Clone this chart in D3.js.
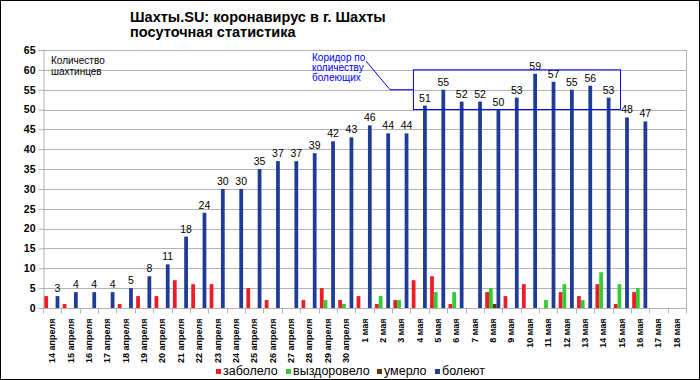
<!DOCTYPE html>
<html>
<head>
<meta charset="utf-8">
<script src="https://cdn.jsdelivr.net/npm/d3@7/dist/d3.min.js"></script>
<style>
  html, body { margin: 0; padding: 0; background: #fff; }
  svg { display: block; }
</style>
</head>
<body>
<svg id="chart" width="700" height="380"></svg>
<script>
// ---- data ----
const categories = [
  "14 апреля","15 апреля","16 апреля","17 апреля","18 апреля","19 апреля","20 апреля",
  "21 апреля","22 апреля","23 апреля","24 апреля","25 апреля","26 апреля","27 апреля",
  "28 апреля","29 апреля","30 апреля",
  "1 мая","2 мая","3 мая","4 мая","5 мая","6 мая","7 мая","8 мая","9 мая","10 мая",
  "11 мая","12 мая","13 мая","14 мая","15 мая","16 мая","17 мая","18 мая"
];
const seriesNames = ["заболело", "выздоровело", "умерло", "болеют"];
const zabolelo    = [3,1,0,0,1,3,3,7,6,6,0,5,2,0,2,5,2,3,1,2,7,8,1,0,4,3,6,0,4,3,6,1,4,null,null];
const vyzdorovelo = [0,0,0,0,0,0,0,0,0,0,0,0,0,0,0,2,1,0,3,2,0,4,4,0,5,0,0,2,6,2,9,6,5,null,null];
const umerlo      = [0,0,0,0,0,0,0,0,0,0,0,0,0,0,0,0,0,0,0,0,0,0,0,0,1,0,0,0,0,0,0,0,0,null,null];
const boleyut     = [3,4,4,4,5,8,11,18,24,30,30,35,37,37,39,42,43,46,44,44,51,55,52,52,50,53,59,57,55,56,53,48,47,null,null];
const yTicks = [0,5,10,15,20,25,30,35,40,45,50,55,60,65];
const titleLines = ["Шахты.SU: коронавирус в г. Шахты", "посуточная статистика"];
const yAxisTitle = ["Количество", "шахтинцев"];
const corridorText = ["Коридор по", "количеству", "болеющих"];
const corridorRange = [50, 60];
const corridorFrom = "4 мая", corridorTo = "15 мая";

const seriesValues = [zabolelo, vyzdorovelo, umerlo, boleyut];
const colors = ["#ee1c24", "#33cc33", "#663300", "#1f3d96"];

// ---- layout ----
const svg = d3.select("#chart");
const plotL = 43, plotR = 686, plotT = 50, plotB = 308;

const x = d3.scaleBand().domain(categories).range([plotL, plotR]).padding(0);
const xs = d3.scaleBand().domain(seriesNames).range([1.3, x.bandwidth() - 2]).padding(0);
const y = d3.scaleLinear().domain([0, 65]).range([plotB, plotT]);

// outer frame
svg.append("rect").attr("x", 0.5).attr("y", 0.5).attr("width", 699).attr("height", 379)
  .attr("fill", "#fff").attr("stroke", "#000").attr("stroke-width", 1);

// title
svg.append("text").attr("x", 130).attr("y", 22)
  .style("font-family", "Liberation Sans, Arial, sans-serif").style("font-size", "14.5px").style("font-weight", "bold")
  .selectAll("tspan").data(titleLines).join("tspan")
  .attr("x", 130).attr("dy", (d, i) => i === 0 ? 0 : 15).text(d => d);

// gridlines
svg.append("g").selectAll("line").data(yTicks).join("line")
  .attr("x1", plotL).attr("x2", plotR)
  .attr("y1", d => Math.round(y(d)) + 0.5).attr("y2", d => Math.round(y(d)) + 0.5)
  .attr("stroke", "#b3b3b3").attr("stroke-width", 1);

// right border of plot area
svg.append("line").attr("x1", plotR + 0.5).attr("x2", plotR + 0.5)
  .attr("y1", plotT).attr("y2", plotB).attr("stroke", "#b3b3b3");

// y axis
const yAxis = d3.axisLeft(y).tickValues(yTicks).tickSize(5).tickPadding(3);
const gy = svg.append("g").attr("transform", `translate(${plotL + 0.5},0)`).call(yAxis);
gy.select(".domain").attr("stroke", "#b3b3b3");
gy.selectAll(".tick line").attr("stroke", "#b3b3b3");
gy.selectAll(".tick text").style("font-family", "Liberation Sans, Arial, sans-serif")
  .style("font-size", "10.5px").style("font-weight", "bold").attr("fill", "#000");

// x axis (ticks at category boundaries)
const gx = svg.append("g").attr("transform", `translate(0,${plotB + 0.5})`);
gx.append("line").attr("x1", plotL).attr("x2", plotR).attr("stroke", "#b3b3b3");
gx.selectAll("line.tk").data(categories.concat(["__end"])).join("line").attr("class", "tk")
  .attr("x1", (d, i) => Math.round(plotL + i * x.bandwidth()) + 0.5)
  .attr("x2", (d, i) => Math.round(plotL + i * x.bandwidth()) + 0.5)
  .attr("y1", 0).attr("y2", 5).attr("stroke", "#b3b3b3");
gx.selectAll("text").data(categories).join("text")
  .attr("transform", d => `translate(${x(d) + x.bandwidth() / 2 + 3},10) rotate(-90)`)
  .attr("text-anchor", "end")
  .style("font-family", "Liberation Sans, Arial, sans-serif").style("font-size", "9px").style("font-weight", "bold")
  .text(d => d);

// y axis title
svg.append("text")
  .style("font-family", "Liberation Sans, Arial, sans-serif").style("font-size", "10px")
  .selectAll("tspan").data(yAxisTitle).join("tspan")
  .attr("x", 51).attr("y", (d, i) => 64 + i * 11).text(d => d);

// bars
seriesNames.forEach((name, si) => {
  const vals = seriesValues[si];
  svg.append("g").selectAll("rect")
    .data(categories.map((c, i) => ({ c, v: vals[i] })).filter(d => d.v != null && d.v > 0))
    .join("rect")
    .attr("x", d => x(d.c) + xs(name))
    .attr("y", d => y(d.v))
    .attr("width", xs.bandwidth())
    .attr("height", d => y(0) - y(d.v))
    .attr("fill", colors[si]);
});

// data labels above "болеют"
svg.append("g").selectAll("text")
  .data(categories.map((c, i) => ({ c, v: boleyut[i] })).filter(d => d.v != null))
  .join("text")
  .attr("x", d => x(d.c) + xs("болеют") + xs.bandwidth() / 2)
  .attr("y", d => y(d.v) - 4)
  .attr("text-anchor", "middle")
  .style("font-family", "Liberation Sans, Arial, sans-serif").style("font-size", "10.5px")
  .text(d => d.v);

// corridor annotation
const bx1 = x(corridorFrom) + 3, bx2 = x(corridorTo) + 8;
svg.append("rect").attr("x", bx1).attr("y", y(corridorRange[1]))
  .attr("width", bx2 - bx1).attr("height", y(corridorRange[0]) - y(corridorRange[1]))
  .attr("fill", "none").attr("stroke", "#0000ff").attr("stroke-width", 1);
const midY = y((corridorRange[0] + corridorRange[1]) / 2);
svg.append("polyline")
  .attr("points", `366,61 390,${midY} ${bx1},${midY}`)
  .attr("fill", "none").attr("stroke", "#0000ff").attr("stroke-width", 1);
svg.append("text")
  .style("font-family", "Liberation Sans, Arial, sans-serif").style("font-size", "10px").attr("fill", "#0000ff")
  .selectAll("tspan").data(corridorText).join("tspan")
  .attr("x", 312).attr("y", (d, i) => 61 + i * 10).text(d => d);

// legend
const legendX = [216, 286, 377, 435];
const lg = svg.append("g");
seriesNames.forEach((name, i) => {
  lg.append("rect").attr("x", legendX[i]).attr("y", 369).attr("width", 5).attr("height", 5).attr("fill", colors[i]);
  lg.append("text").attr("x", legendX[i] + 7).attr("y", 375)
    .style("font-family", "Liberation Sans, Arial, sans-serif").style("font-size", "12.5px")
    .text(name);
});
</script>
</body>
</html>
